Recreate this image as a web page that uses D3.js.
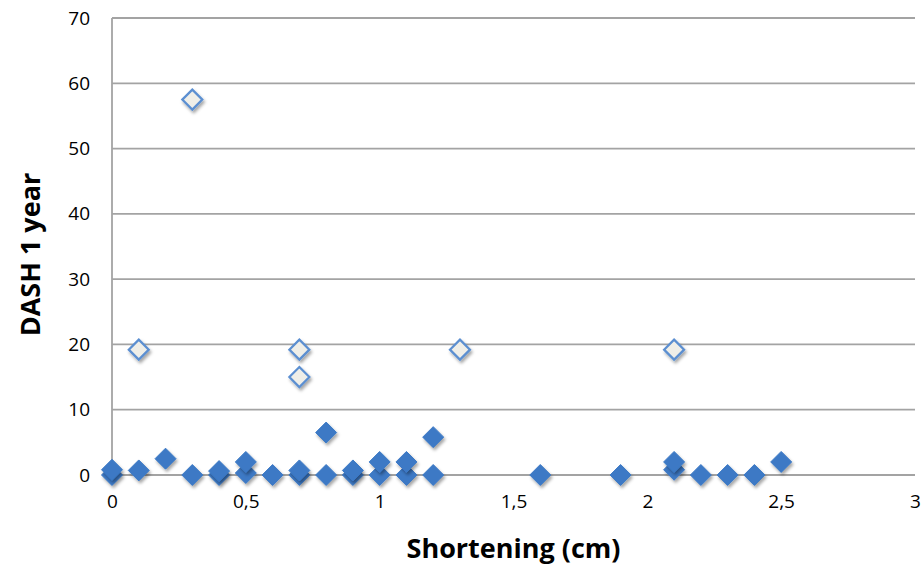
<!DOCTYPE html>
<html>
<head>
<meta charset="utf-8">
<script src="https://cdn.jsdelivr.net/npm/d3@7"></script>
<style>
  body { margin: 0; background: #fff; }
  text { font-family: "Open Sans", "DejaVu Sans", sans-serif; fill: #000; }
</style>
</head>
<body>
<svg id="chart" width="923" height="569"></svg>
<script>
// filled diamonds (DASH values near 0)
const filledX = [0, 0, 0.1, 0.2, 0.3, 0.4, 0.4, 0.5, 0.5, 0.6, 0.7, 0.7, 0.8, 0.8, 0.9, 0.9, 1.0, 1.0, 1.1, 1.1, 1.2, 1.2, 1.6, 1.9, 2.1, 2.1, 2.2, 2.3, 2.4, 2.5];
const filledY = [0, 0.8, 0.7, 2.5, 0, 0, 0.6, 0.3, 2, 0, 0, 0.7, 0, 6.5, 0, 0.7, 0, 2, 0, 2, 0, 5.8, 0, 0, 0.8, 2, 0, 0, 0, 2];
// open diamonds (outliers)
const openX = [0.1, 0.3, 0.7, 0.7, 1.3, 2.1];
const openY = [19.2, 57.5, 19.2, 15, 19.2, 19.2];

const xTicks = [0, 0.5, 1, 1.5, 2, 2.5, 3];
const xTickLabels = ["0", "0,5", "1", "1,5", "2", "2,5", "3"];
const yTicks = [0, 10, 20, 30, 40, 50, 60, 70];

const svg = d3.select("#chart");
const margin = { left: 112, right: 8, top: 18, bottom: 94 };
const width = 923, height = 569;

const x = d3.scaleLinear().domain([0, 3]).range([margin.left, width - margin.right]);
const y = d3.scaleLinear().domain([0, 70]).range([height - margin.bottom, margin.top]);

const defs = svg.append("defs");
const f = defs.append("filter").attr("id", "shadow")
  .attr("x", "-50%").attr("y", "-50%").attr("width", "200%").attr("height", "200%");
f.append("feDropShadow").attr("dx", 1.5).attr("dy", 2.5).attr("stdDeviation", 1.8)
  .attr("flood-color", "#000").attr("flood-opacity", 0.35);

// horizontal gridlines
svg.append("g").selectAll("line")
  .data(yTicks)
  .enter()
  .append("line")
  .attr("x1", x(0))
  .attr("x2", x(3))
  .attr("y1", d => y(d))
  .attr("y2", d => y(d))
  .attr("stroke", "#a3a3a3")
  .attr("stroke-width", 1.8);

// vertical axis line
svg.append("line")
  .attr("x1", x(0)).attr("x2", x(0))
  .attr("y1", y(70)).attr("y2", y(0))
  .attr("stroke", "#a3a3a3")
  .attr("stroke-width", 1.8);

// y tick labels
const yAxis = d3.axisLeft(y).tickValues(yTicks).tickSize(0).tickPadding(22);
svg.append("g")
  .attr("transform", `translate(${x(0)},0)`)
  .call(yAxis)
  .call(g => g.select(".domain").remove())
  .selectAll("text")
  .style("font-size", "19px")
  .style("font-family", "'Open Sans', sans-serif");

// x tick labels
const xAxis = d3.axisBottom(x).tickValues(xTicks).tickSize(0).tickPadding(20)
  .tickFormat((d, i) => xTickLabels[i]);
svg.append("g")
  .attr("transform", `translate(0,${y(0)})`)
  .call(xAxis)
  .call(g => g.select(".domain").remove())
  .selectAll("text")
  .style("font-size", "19px")
  .style("font-family", "'Open Sans', sans-serif");

const diamond = r => `M0,${-r}L${r},0L0,${r}L${-r},0Z`;

// filled markers
svg.append("g").selectAll("path")
  .data(filledX.map((d, i) => ({ x: d, y: filledY[i] })))
  .enter()
  .append("path")
  .attr("d", diamond(10.5))
  .attr("transform", d => `translate(${x(d.x)},${y(d.y)})`)
  .attr("fill", "#3c79c5")
  .attr("stroke", "#3c79c5")
  .attr("stroke-width", 1)
  .attr("filter", "url(#shadow)");

// open markers
svg.append("g").selectAll("path")
  .data(openX.map((d, i) => ({ x: d, y: openY[i] })))
  .enter()
  .append("path")
  .attr("d", diamond(10))
  .attr("transform", d => `translate(${x(d.x)},${y(d.y)})`)
  .attr("fill", "#efeee8")
  .attr("stroke", "#5b8fd1")
  .attr("stroke-width", 2.2)
  .attr("filter", "url(#shadow)");

// axis titles
svg.append("text")
  .attr("x", (x(0) + x(3)) / 2)
  .attr("y", 558)
  .attr("text-anchor", "middle")
  .style("font-size", "27px")
  .style("font-weight", "bold")
  .text("Shortening (cm)");

svg.append("text")
  .attr("transform", `translate(40,${(y(0) + y(70)) / 2 + 8}) rotate(-90)`)
  .attr("text-anchor", "middle")
  .style("font-size", "27px")
  .style("font-weight", "bold")
  .text("DASH 1 year");
</script>
</body>
</html>
